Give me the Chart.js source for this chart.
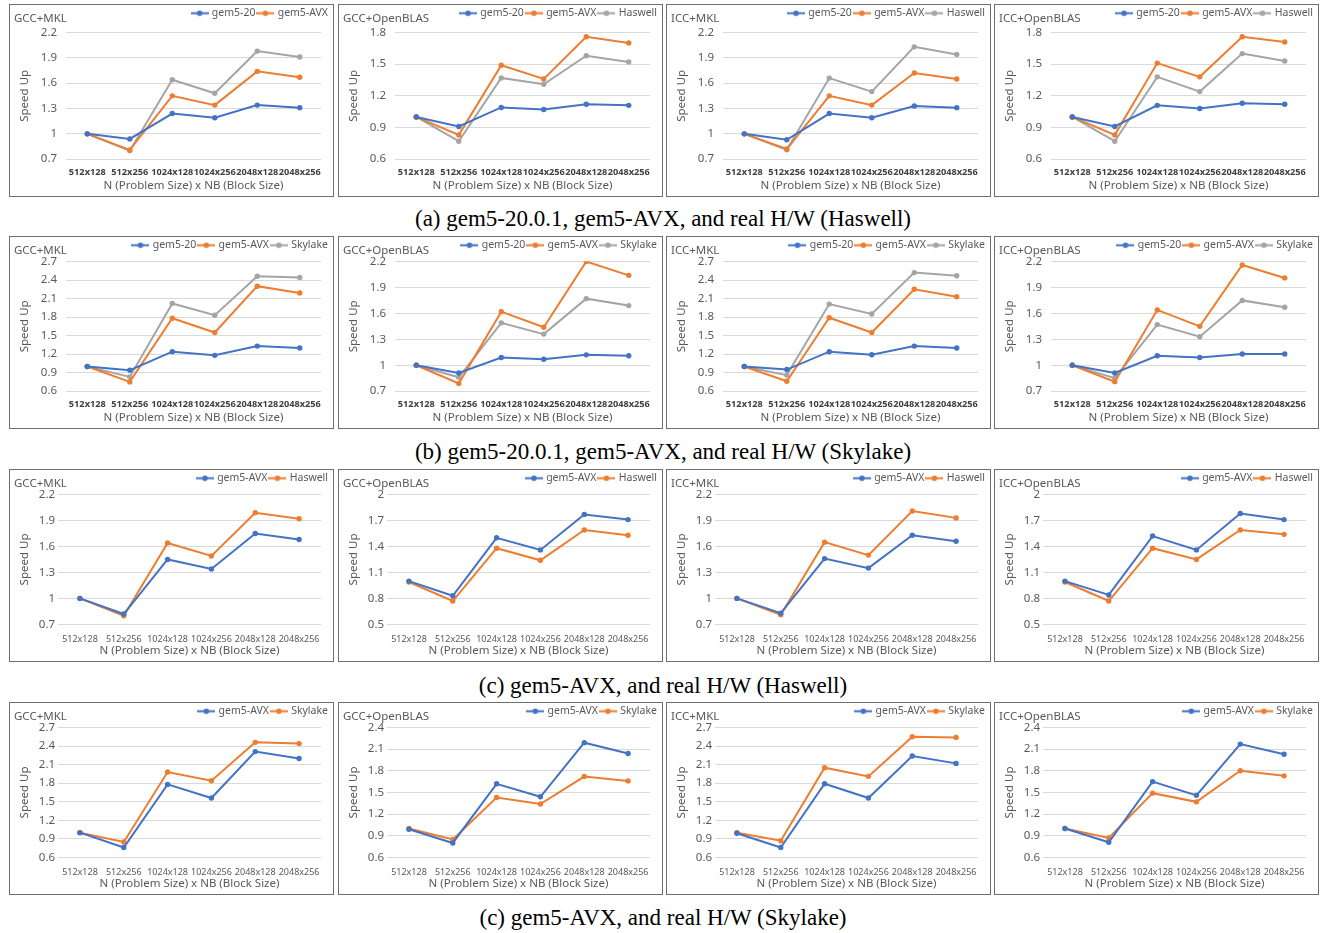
<!DOCTYPE html>
<html>
<head>
<meta charset="utf-8">
<script src="https://cdn.jsdelivr.net/npm/chart.js@4.4.1/dist/chart.umd.min.js"></script>
<style>
  body { margin: 0; background: #fff; width: 1326px; height: 933px; position: relative; overflow: hidden; font-family: "Noto Sans", sans-serif; }
  .panel { position: absolute; width: 323px; height: 191px; border: 1px solid #6f6f6f; background: #fff; }
  .panel canvas { position: absolute; left: 0; top: 0; }
  .ptitle { position: absolute; left: 4px; top: 6px; font-size: 11.5px; color: #595959; line-height: 14px; }
  .caption { position: absolute; left: 0; width: 1326px; text-align: center; font-family: "Liberation Serif", serif; font-size: 23px; line-height: 26px; color: #000; }
</style>
</head>
<body>
<script>
// Категории по оси X и подписи панелей
const categories = ['512x128', '512x256', '1024x128', '1024x256', '2048x128', '2048x256'];
const panelTitles = ['GCC+MKL', 'GCC+OpenBLAS', 'ICC+MKL', 'ICC+OpenBLAS'];
const captions = [
  '(a) gem5-20.0.1, gem5-AVX, and real H/W (Haswell)',
  '(b) gem5-20.0.1, gem5-AVX, and real H/W (Skylake)',
  '(c) gem5-AVX, and real H/W (Haswell)',
  '(c) gem5-AVX, and real H/W (Skylake)',
];

// (a) Haswell: gem5-20 / gem5-AVX / Haswell
const rowA_gem520 = [
  [1, 0.94, 1.24, 1.19, 1.34, 1.31],
  [1, 0.91, 1.09, 1.07, 1.12, 1.11],
  [1, 0.93, 1.24, 1.19, 1.33, 1.31],
  [1, 0.91, 1.11, 1.08, 1.13, 1.12],
];
const rowA_avx = [
  [1, 0.81, 1.45, 1.34, 1.74, 1.67],
  [1, 0.83, 1.49, 1.36, 1.76, 1.70],
  [1, 0.82, 1.45, 1.34, 1.72, 1.65],
  [1, 0.83, 1.51, 1.38, 1.76, 1.71],
];
const rowA_haswell = [
  [1, 0.80, 1.64, 1.48, 1.98, 1.91],
  [1, 0.77, 1.37, 1.31, 1.58, 1.52],
  [1, 0.81, 1.66, 1.50, 2.03, 1.94],
  [1, 0.77, 1.38, 1.24, 1.60, 1.53],
];

// (b) Skylake: gem5-20 / gem5-AVX / Skylake
const rowB_gem520 = [
  [1, 0.94, 1.24, 1.18, 1.33, 1.30],
  [1, 0.91, 1.09, 1.07, 1.12, 1.11],
  [1, 0.95, 1.24, 1.19, 1.33, 1.30],
  [1, 0.91, 1.11, 1.09, 1.13, 1.13],
];
const rowB_avx = [
  [1, 0.75, 1.78, 1.55, 2.30, 2.19],
  [1, 0.79, 1.62, 1.44, 2.20, 2.04],
  [1, 0.76, 1.79, 1.55, 2.25, 2.13],
  [1, 0.81, 1.64, 1.45, 2.16, 2.01],
];
const rowB_skylake = [
  [1, 0.83, 2.02, 1.83, 2.46, 2.44],
  [1, 0.86, 1.49, 1.36, 1.77, 1.69],
  [1, 0.86, 2.01, 1.85, 2.52, 2.47],
  [1, 0.85, 1.47, 1.33, 1.75, 1.67],
];

// (c) gem5-AVX / Haswell
const rowC_avx = [
  [1, 0.82, 1.45, 1.34, 1.75, 1.68],
  [1, 0.83, 1.50, 1.36, 1.77, 1.71],
  [1, 0.83, 1.46, 1.35, 1.73, 1.66],
  [1, 0.84, 1.52, 1.36, 1.78, 1.71],
];
const rowC_haswell = [
  [1, 0.80, 1.64, 1.49, 1.99, 1.92],
  [0.99, 0.77, 1.38, 1.24, 1.59, 1.53],
  [1, 0.81, 1.65, 1.50, 2.01, 1.93],
  [0.99, 0.77, 1.38, 1.25, 1.59, 1.54],
];

// (c) gem5-AVX / Skylake
const rowD_avx = [
  [1, 0.76, 1.78, 1.56, 2.31, 2.20],
  [0.99, 0.80, 1.62, 1.44, 2.19, 2.04],
  [0.99, 0.76, 1.79, 1.56, 2.24, 2.12],
  [1, 0.81, 1.65, 1.46, 2.17, 2.03],
];
const rowD_skylake = [
  [1, 0.85, 1.98, 1.84, 2.46, 2.44],
  [1, 0.85, 1.43, 1.34, 1.72, 1.66],
  [1, 0.87, 2.05, 1.91, 2.55, 2.54],
  [1, 0.87, 1.49, 1.37, 1.80, 1.73],
];

// Диапазоны оси Y (шаг 0.3)
const yMinA = [0.7, 0.6, 0.7, 0.6], yMaxA = [2.2, 1.8, 2.2, 1.8];
const yMinB = [0.6, 0.7, 0.6, 0.7], yMaxB = [2.7, 2.2, 2.7, 2.2];
const yMinC = [0.7, 0.5, 0.7, 0.5], yMaxC = [2.2, 2.0, 2.2, 2.0];
const yMinD = [0.6, 0.6, 0.6, 0.6], yMaxD = [2.7, 2.4, 2.7, 2.4];

const BLUE = '#4472C4';
const ORANGE = '#ED7D31';
const GRAY = '#A5A5A5';
const TEXT = '#595959';
const FONT = 'Noto Sans';

const panelLeft = [9, 338, 666, 994];
const panelTop = [4, 236, 469, 702];
const captionTop = [206, 439, 673, 905];
const legendGaps = [4, 1, 1, 1];

// Значок легенды: линия с точкой
function legendIcon(color) {
  const c = document.createElement('canvas');
  c.width = 18; c.height = 7;
  const g = c.getContext('2d');
  g.strokeStyle = color; g.lineWidth = 2;
  g.beginPath(); g.moveTo(0, 3.5); g.lineTo(18, 3.5); g.stroke();
  g.fillStyle = color;
  g.beginPath(); g.arc(9, 3.5, 2.8, 0, Math.PI * 2); g.fill();
  return c;
}
const icons = { [BLUE]: legendIcon(BLUE), [ORANGE]: legendIcon(ORANGE), [GRAY]: legendIcon(GRAY) };

// Дополнительный отступ под легендой
function legendGap(extra) {
  return {
    id: 'legendGap',
    beforeInit(chart) {
      const fit = chart.legend.fit;
      chart.legend.fit = function () {
        fit.bind(chart.legend)();
        this.height += extra;
      };
    },
  };
}

function series(label, data, color) {
  return {
    label, data,
    borderColor: color, backgroundColor: color,
    borderWidth: 2, pointRadius: 2.7, pointHoverRadius: 3,
    pointBackgroundColor: color, pointBorderWidth: 0,
    tension: 0,
  };
}

function makePanel(row, col, datasets, yMin, yMax, boldTicks, hideLegend) {
  const div = document.createElement('div');
  div.className = 'panel';
  div.style.left = panelLeft[col] + 'px';
  div.style.top = panelTop[row] + 'px';
  const canvas = document.createElement('canvas');
  canvas.width = 323; canvas.height = 191;
  canvas.style.width = '323px'; canvas.style.height = '191px';
  div.appendChild(canvas);
  const t = document.createElement('div');
  t.className = 'ptitle';
  t.textContent = panelTitles[col];
  div.appendChild(t);
  document.body.appendChild(div);

  new Chart(canvas, {
    type: 'line',
    data: { labels: categories, datasets },
    options: {
      responsive: false,
      animation: false,
      layout: { padding: { top: 0, right: 2, left: 8, bottom: 3 } },
      plugins: {
        tooltip: { enabled: false },
        legend: {
          position: 'top',
          align: 'end',
          labels: {
            color: TEXT,
            font: { family: FONT, size: 10.5 },
            usePointStyle: true,
            pointStyleWidth: 14,
            boxHeight: 7,
            padding: 3,
            filter: (item) => !hideLegend || item.datasetIndex < 2,
            generateLabels: (chart) => chart.data.datasets.map((ds, i) => ({
              text: ds.label,
              fillStyle: ds.borderColor,
              strokeStyle: ds.borderColor,
              lineWidth: 0,
              pointStyle: icons[ds.borderColor],
              fontColor: TEXT,
              hidden: false,
              datasetIndex: i,
            })),
          },
        },
      },
      scales: {
        x: {
          offset: true,
          grid: { display: false, drawTicks: false, tickLength: 0 },
          border: { display: false },
          ticks: {
            autoSkip: false, maxRotation: 0, minRotation: 0, padding: boldTicks ? 8 : 9.5,
            color: boldTicks ? '#404040' : TEXT,
            font: { family: FONT, size: boldTicks ? 9.2 : 9, weight: boldTicks ? 'bold' : 'normal' },
          },
          title: {
            display: true, text: 'N (Problem Size) x NB (Block Size)',
            color: TEXT, font: { family: FONT, size: 11.5 },
            padding: { top: boldTicks ? -7 : -10, bottom: 0 },
          },
        },
        y: {
          min: yMin, max: yMax,
          grid: { color: '#D9D9D9', drawTicks: false, tickLength: 0 },
          border: { display: false },
          ticks: {
            stepSize: 0.3, autoSkip: false, padding: boldTicks ? 9 : 3, color: TEXT,
            font: { family: FONT, size: 11.5 },
            callback: (v) => String(parseFloat(Number(v).toFixed(1))),
          },
          title: {
            display: true, text: 'Speed Up',
            color: TEXT, font: { family: FONT, size: 11.5 },
            padding: { top: 0, bottom: boldTicks ? 0 : 4 },
          },
        },
        yR: {
          position: 'right',
          display: true,
          grid: { display: false, drawTicks: false },
          border: { display: false },
          ticks: { display: false },
          afterFit: (s) => { s.width = 10; },
        },
      },
    },
    plugins: [legendGap(legendGaps[row])],
  });
}

for (let c = 0; c < 4; c++) {
  makePanel(0, c, [
    series('gem5-20', rowA_gem520[c], BLUE),
    series('gem5-AVX', rowA_avx[c], ORANGE),
    series('Haswell', rowA_haswell[c], GRAY),
  ], yMinA[c], yMaxA[c], true, c === 0);
  makePanel(1, c, [
    series('gem5-20', rowB_gem520[c], BLUE),
    series('gem5-AVX', rowB_avx[c], ORANGE),
    series('Skylake', rowB_skylake[c], GRAY),
  ], yMinB[c], yMaxB[c], true, false);
  makePanel(2, c, [
    series('gem5-AVX', rowC_avx[c], BLUE),
    series('Haswell', rowC_haswell[c], ORANGE),
  ], yMinC[c], yMaxC[c], false, false);
  makePanel(3, c, [
    series('gem5-AVX', rowD_avx[c], BLUE),
    series('Skylake', rowD_skylake[c], ORANGE),
  ], yMinD[c], yMaxD[c], false, false);
}

captions.forEach((txt, i) => {
  const d = document.createElement('div');
  d.className = 'caption';
  d.style.top = captionTop[i] + 'px';
  d.textContent = txt;
  document.body.appendChild(d);
});
</script>
</body>
</html>
